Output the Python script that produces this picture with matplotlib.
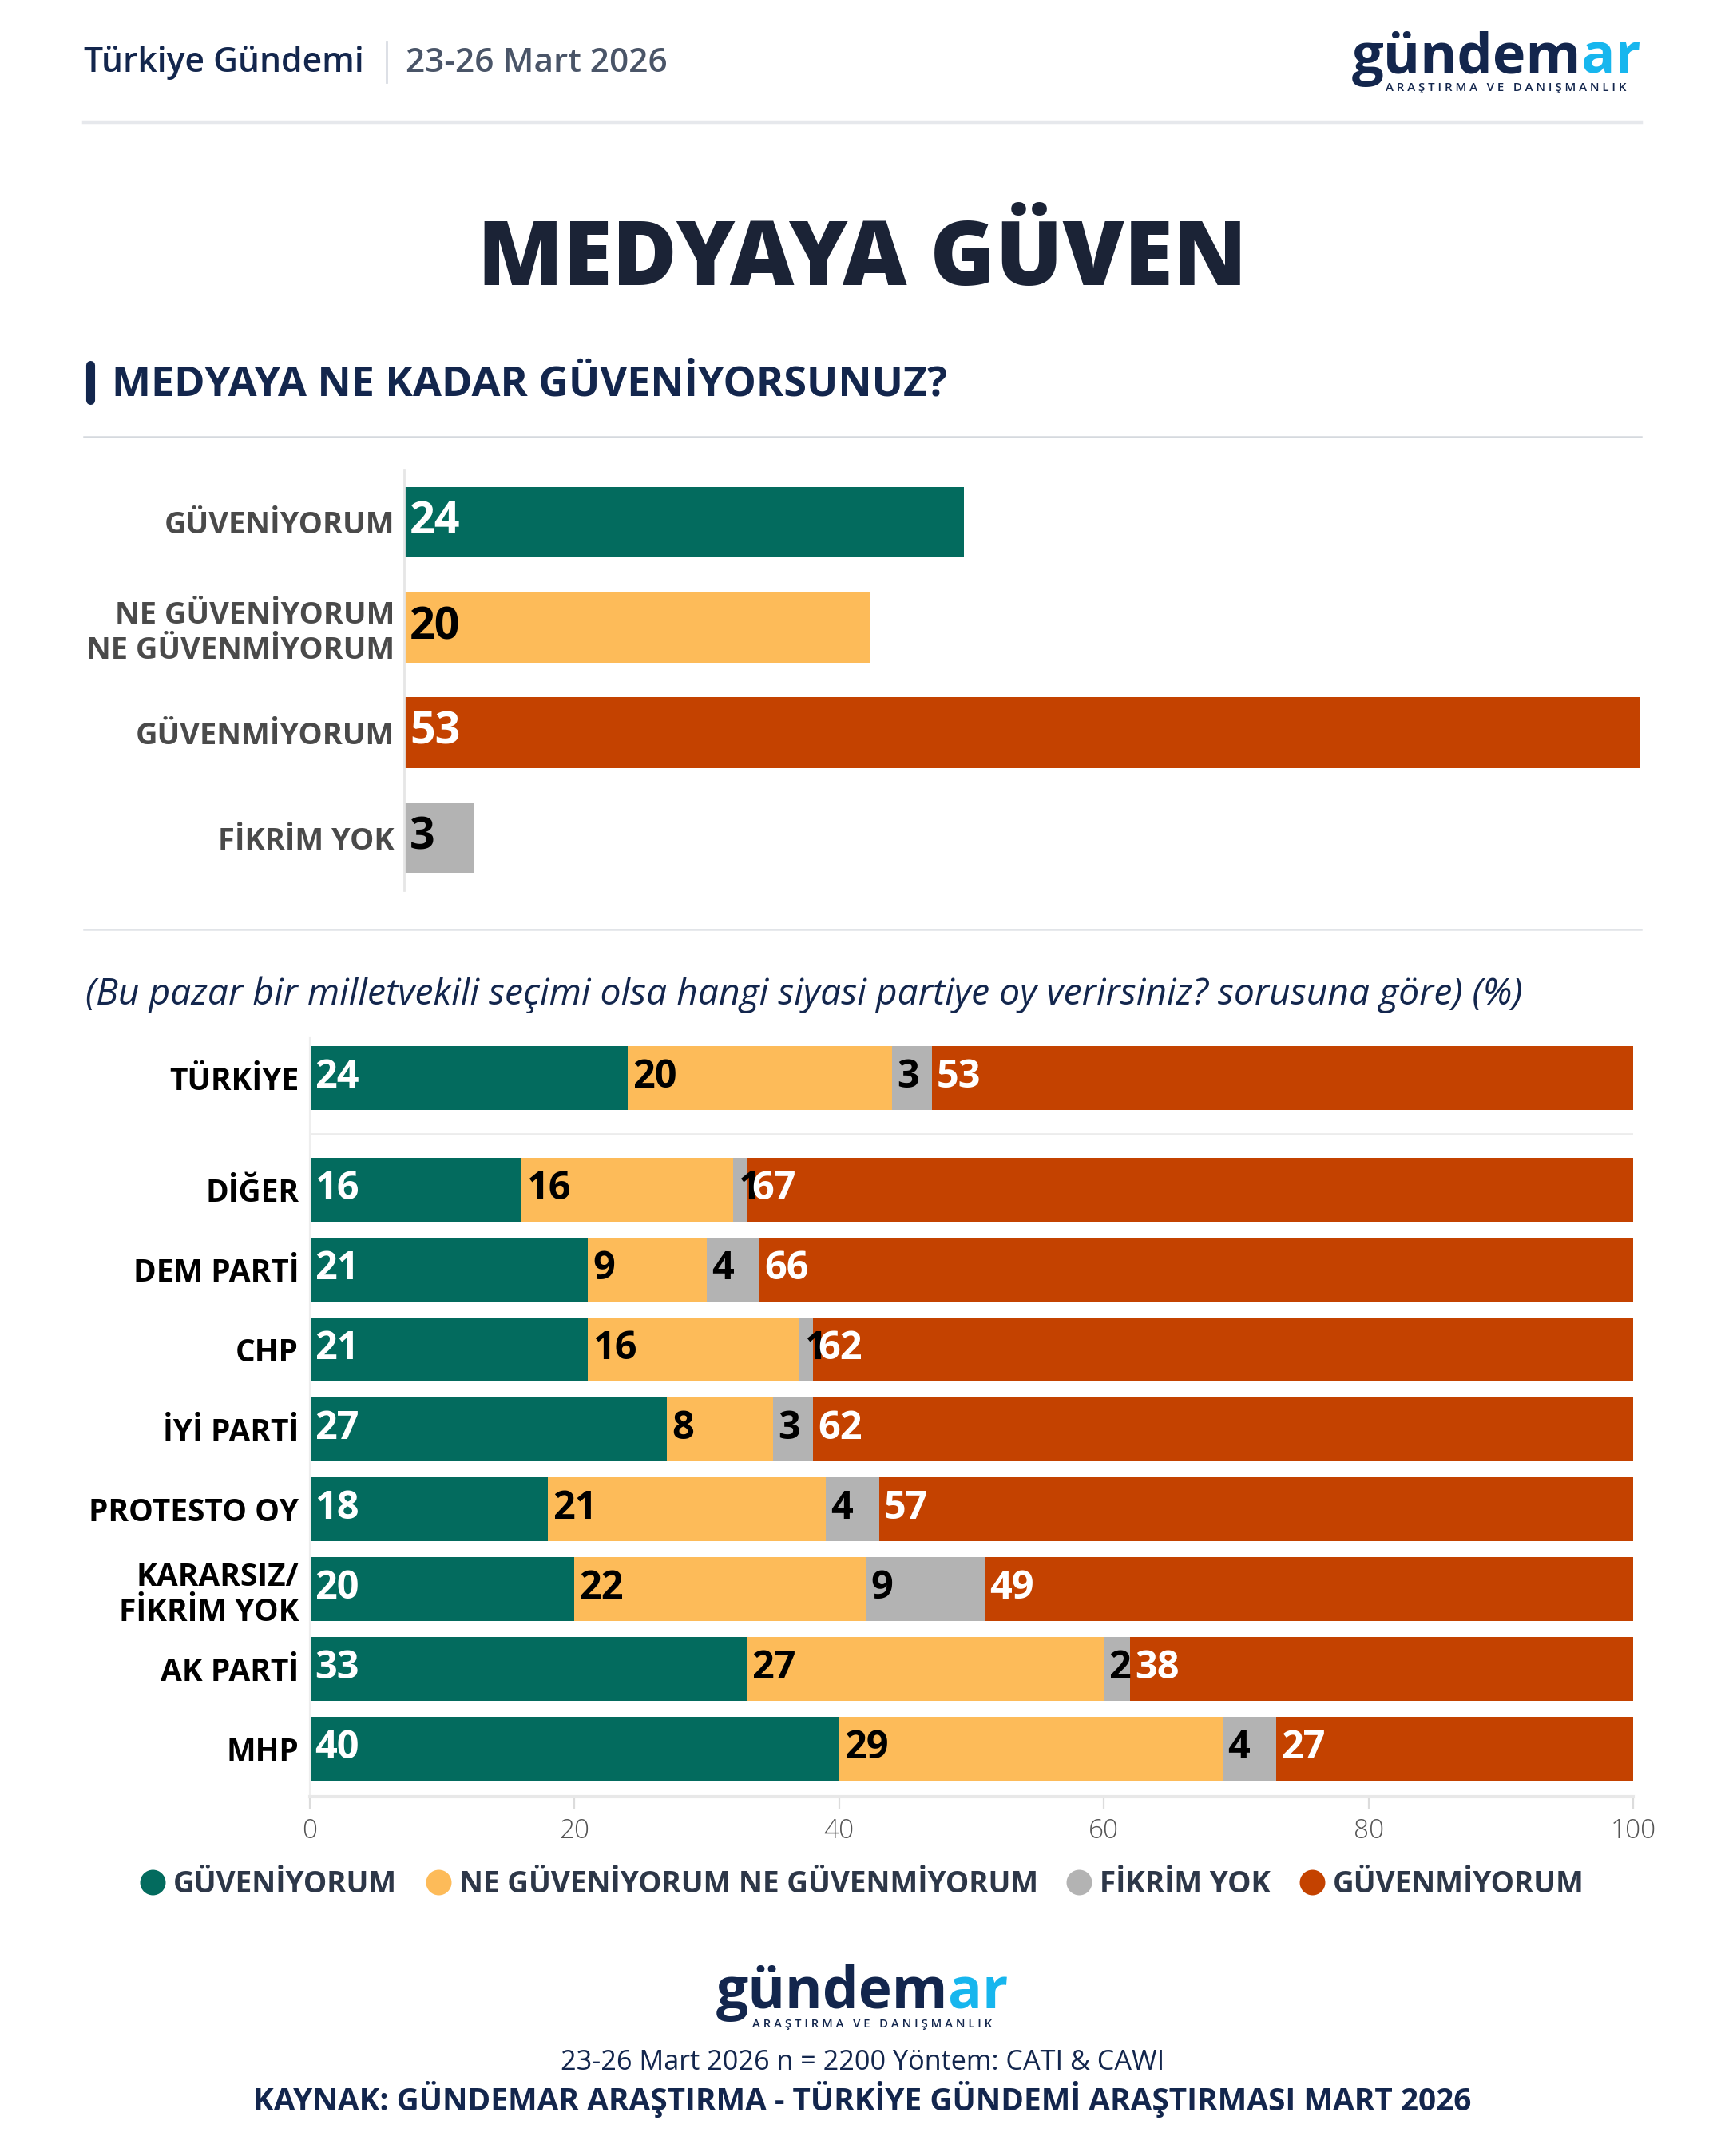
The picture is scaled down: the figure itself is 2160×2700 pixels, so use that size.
import matplotlib
matplotlib.use('Agg')
import matplotlib.pyplot as plt
from matplotlib.lines import Line2D
import numpy as np

# ---------------- data ----------------
title = 'MEDYAYA GÜVEN'
question = 'MEDYAYA NE KADAR GÜVENİYORSUNUZ?'
note = '(Bu pazar bir milletvekili seçimi olsa hangi siyasi partiye oy verirsiniz? sorusuna göre) (%)'
header_left = 'Türkiye Gündemi'
header_date = '23-26 Mart 2026'
footer_info = '23-26 Mart 2026 n = 2200 Yöntem: CATI & CAWI'
footer_source = 'KAYNAK: GÜNDEMAR ARAŞTIRMA - TÜRKİYE GÜNDEMİ ARAŞTIRMASI MART 2026'
logo_main = 'gündem'
logo_accent = 'ar'
logo_sub = 'ARAŞTIRMA VE DANIŞMANLIK'

top_categories = ['GÜVENİYORUM', 'NE GÜVENİYORUM\nNE GÜVENMİYORUM', 'GÜVENMİYORUM', 'FİKRİM YOK']
top_values = [24, 20, 53, 3]

groups = ['TÜRKİYE', 'DİĞER', 'DEM PARTİ', 'CHP', 'İYİ PARTİ', 'PROTESTO OY',
          'KARARSIZ/\nFİKRİM YOK', 'AK PARTİ', 'MHP']
guveniyorum = [24, 16, 21, 21, 27, 18, 20, 33, 40]
ne_ne = [20, 16, 9, 16, 8, 21, 22, 27, 29]
fikrim_yok = [3, 1, 4, 1, 3, 4, 9, 2, 4]
guvenmiyorum = [53, 67, 66, 62, 62, 57, 49, 38, 27]
series_names = ['GÜVENİYORUM', 'NE GÜVENİYORUM NE GÜVENMİYORUM', 'FİKRİM YOK', 'GÜVENMİYORUM']
x_ticks = [0, 20, 40, 60, 80, 100]

# ---------------- style ----------------
GREEN = '#036b5e'
YELLOW = '#fdbb59'
GRAY = '#b3b3b3'
ORANGE = '#c44200'
NAVY = '#13264d'
CYAN = '#17b6ee'
FONT = ['Open Sans', 'DejaVu Sans']
plt.rcParams['font.family'] = FONT

W, H, DPI = 2160, 2700, 200
fig = plt.figure(figsize=(W / DPI, H / DPI), dpi=DPI)
fig.patch.set_facecolor('white')
R = fig.canvas.get_renderer()


def fx(x):
    return x / W


def fy(y):
    return 1 - y / H


def fit(t, target_w):
    bb = t.get_window_extent(renderer=R)
    t.set_fontsize(t.get_fontsize() * target_w / bb.width)
    return t


def hline(x0, x1, y, color, lw):
    fig.add_artist(Line2D([fx(x0), fx(x1)], [fy(y), fy(y)], color=color, lw=lw))


def draw_logo(x0, x1, baseline, sx0, sx1, sy):
    t1 = fig.text(fx(x0), fy(baseline), logo_main, fontsize=26, fontweight='bold',
                  color=NAVY, ha='left', va='baseline')
    t2 = fig.text(fx(x0), fy(baseline), logo_accent, fontsize=26, fontweight='bold',
                  color=CYAN, ha='left', va='baseline')
    w = t1.get_window_extent(renderer=R).width + t2.get_window_extent(renderer=R).width
    s = 26 * (x1 - x0) / w
    t1.set_fontsize(s)
    t2.set_fontsize(s)
    w1 = t1.get_window_extent(renderer=R).width
    t2.set_x(fx(x0 + w1))
    spaced = '   '.join(' '.join(word) for word in logo_sub.split(' '))
    st = fig.text(fx(sx0), fy(sy), spaced, fontsize=5, fontweight='semibold',
                  color=NAVY, ha='left', va='center')
    fit(st, sx1 - sx0)


# ---------------- header ----------------
t = fig.text(fx(105), fy(90), header_left, fontsize=13, fontweight='semibold',
             color=NAVY, ha='left', va='baseline')
fit(t, 351)
t = fig.text(fx(508), fy(90), header_date, fontsize=13, fontweight='semibold',
             color='#4a5568', ha='left', va='baseline')
fit(t, 327)
fig.add_artist(Line2D([fx(484), fx(484)], [fy(52), fy(103)], color='#d9dde3', lw=1))
draw_logo(1693, 2055, 92, 1735, 2037, 110)
hline(105, 2055, 153, '#e6e8ec', 1.6)

# ---------------- title & question ----------------
t = fig.text(0.5, fy(357), title, fontsize=40, fontweight='heavy', color='#1b2336',
             ha='center', va='baseline')
fit(t, 963)
fig.add_artist(Line2D([fx(113), fx(113)], [fy(457), fy(501)], color=NAVY, lw=4,
                      solid_capstyle='round'))
t = fig.text(fx(140), fy(495), question, fontsize=17, fontweight='bold', color=NAVY,
             ha='left', va='baseline')
fit(t, 1049)
hline(105, 2055, 547, '#d5d9de', 0.9)

# ---------------- top chart ----------------
top_colors = [GREEN, YELLOW, ORANGE, GRAY]
top_text = ['white', 'black', 'white', 'black']
ax1 = fig.add_axes([fx(506), fy(1115), (2053 - 506) / W, (1115 - 588) / H])
ypos = np.arange(len(top_values))
ax1.barh(ypos, top_values, height=0.67, color=top_colors)
ax1.set_xlim(0, max(top_values))
ax1.set_ylim(len(top_values) - 0.5, -0.5)
ax1.set_yticks(ypos, top_categories)
ax1.tick_params(axis='y', length=0, pad=4.3, labelsize=13.7, labelcolor='#4a4a4a')
for lab in ax1.get_yticklabels():
    lab.set_fontweight('bold')
    lab.set_multialignment('right')
    lab.set_linespacing(1.2)
ax1.set_xticks([])
for s in ['top', 'right', 'bottom']:
    ax1.spines[s].set_visible(False)
ax1.spines['left'].set_color('#e6e6e6')
ax1.spines['left'].set_linewidth(1.0)
for y, v, tc in zip(ypos, top_values, top_text):
    ax1.annotate(str(v), (0, y), xytext=(2.5, 0), textcoords='offset points',
                 ha='left', va='center', fontsize=20, fontweight='bold', color=tc)

hline(105, 2055, 1164, '#e1e4e8', 0.9)

# ---------------- note ----------------
t = fig.text(fx(107), fy(1258), note, fontsize=13, fontstyle='italic', fontweight='medium',
             color=NAVY, ha='left', va='baseline')
fit(t, 1805)

# ---------------- stacked chart ----------------
series = [guveniyorum, ne_ne, fikrim_yok, guvenmiyorum]
colors = [GREEN, YELLOW, GRAY, ORANGE]
text_colors = ['white', 'black', 'black', 'white']
gap = 0.4
pos = np.array([0.0] + [1 + gap + i for i in range(len(groups) - 1)])

ax2 = fig.add_axes([fx(388), fy(2250), (2045 - 388) / W, (2250 - 1300) / H])
left = np.zeros(len(groups))
for vals, col, tcol, name in zip(series, colors, text_colors, series_names):
    vals = np.array(vals, dtype=float)
    ax2.barh(pos, vals, left=left, height=0.8, color=col, label=name)
    for p, l, v in zip(pos, left, vals):
        ax2.annotate(f'{int(v)}', (l, p), xytext=(2.2, 0), textcoords='offset points',
                     ha='left', va='center', fontsize=17.5, fontweight='bold', color=tcol)
    left += vals
ax2.set_xlim(0, 100)
ax2.set_ylim(pos[-1] + 0.6, -0.5)
ax2.axhline((pos[0] + pos[1]) / 2, color='#ececec', lw=1.0, zorder=0)
ax2.set_yticks(pos, groups)
ax2.tick_params(axis='y', length=0, pad=5, labelsize=14, labelcolor='black')
for lab in ax2.get_yticklabels():
    lab.set_fontweight('bold')
    lab.set_multialignment('right')
    lab.set_linespacing(1.2)
ax2.set_xticks(x_ticks)
ax2.tick_params(axis='x', length=5.4, width=0.8, color='#dcdcdc', pad=4,
                labelsize=12, labelcolor='#555555')
for lab in ax2.get_xticklabels():
    lab.set_fontweight('light')
for s in ['top', 'right']:
    ax2.spines[s].set_visible(False)
ax2.spines['bottom'].set_color('#e8e8e8')
ax2.spines['bottom'].set_linewidth(1.5)
ax2.spines['left'].set_color('#eeeeee')
ax2.spines['left'].set_linewidth(0.8)

# legend
handles = [Line2D([0], [0], marker='o', linestyle='', markersize=10.5,
                  markerfacecolor=c, markeredgecolor=c) for c in colors]
leg = fig.legend(handles, series_names, loc='center', bbox_to_anchor=(0.5, fy(2360)),
                 ncol=4, frameon=False, handlelength=0.8, handletextpad=0.3,
                 columnspacing=1.0, prop={'size': 13.3, 'weight': 'bold'},
                 labelcolor='#2d3748')

# ---------------- footer ----------------
draw_logo(897, 1263, 2515, 942, 1243, 2535)
t = fig.text(0.5, fy(2592), footer_info, fontsize=11, color=NAVY, ha='center', va='baseline')
fit(t, 756)
t = fig.text(0.5, fy(2643), footer_source, fontsize=12.5, fontweight='bold', color=NAVY,
             ha='center', va='baseline')
fit(t, 1526)

fig.savefig('out.png', dpi=DPI, facecolor='white')
